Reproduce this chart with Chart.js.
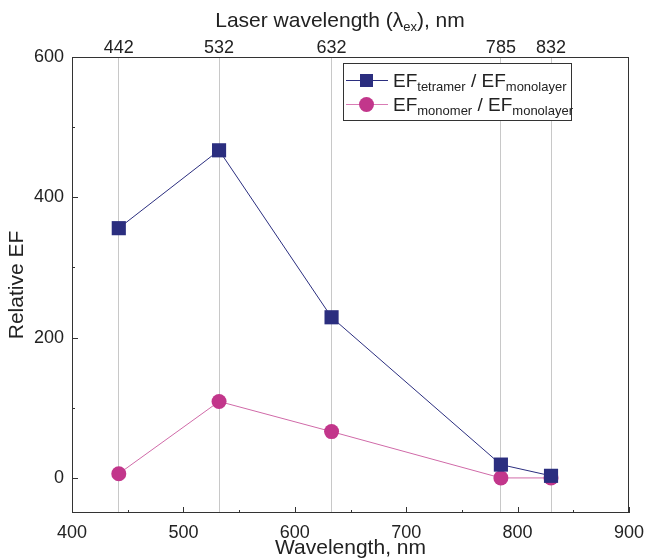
<!DOCTYPE html>
<html>
<head>
<meta charset="utf-8">
<script src="https://cdn.jsdelivr.net/npm/chart.js@4"></script>
<style>
  body { margin: 0; background: #fff; font-family: "Liberation Sans", Arial, sans-serif; }
  #wrap { position: relative; width: 645px; height: 558px; }
  #toptitle { position: absolute; left: 0; width: 680px; top: 8px; line-height: 24px; text-align: center; font-size: 21px; color: #222; }
  #legend { position: absolute; left: 343px; top: 63px; width: 227px; height: 56px; border: 1px solid #333; background: #fff; color: #222; }
  .row { position: absolute; left: 0; height: 24px; font-size: 19px; line-height: 24px; white-space: nowrap; }
  .row .ln { position: absolute; left: 2px; width: 42px; top: 11px; height: 1px; }
  .row .mk { position: absolute; }
  .row .tx { position: absolute; left: 49px; top: 0; }
  sub { font-size: 13px; vertical-align: -4px; line-height: 0; }
</style>
</head>
<body>
<div id="wrap">
  <canvas id="grafico" width="645" height="558"></canvas>
  <div id="toptitle">Laser wavelength (λ<sub>ex</sub>), nm</div>
  <div id="legend">
    <div class="row" style="top:5px">
      <div class="ln" style="background:#2b2e7f"></div>
      <div class="mk" style="left:16px;top:5px;width:13px;height:13px;background:#2b2e7f"></div>
      <div class="tx">EF<sub>tetramer</sub> / EF<sub>monolayer</sub></div>
    </div>
    <div class="row" style="top:29px">
      <div class="ln" style="background:#d97bb4"></div>
      <div class="mk" style="left:15px;top:4px;width:15px;height:15px;border-radius:50%;background:#c2368b"></div>
      <div class="tx">EF<sub>monomer</sub> / EF<sub>monolayer</sub></div>
    </div>
  </div>
</div>
<script>
// dados
const comprimentos = [442, 532, 633, 785, 830];
const tetramero = [356, 467, 229, 19, 3];
const monomero = [6, 109, 66, 0, 0];
const ticksLaser = [442, 532, 633, 785, 830];
const rotulosLaser = ["442", "532", "632", "785", "832"];
const ticksY = [0, 200, 400, 600];

const corTetra = "#2b2e7f";
const corMono = "#c2368b";

// moldura e ticks internos
const moldura = {
  id: "moldura",
  afterDraw(chart) {
    const { ctx, chartArea: a, scales } = chart;
    ctx.save();
    ctx.strokeStyle = "#333";
    ctx.lineWidth = 1;
    ctx.strokeRect(a.left + 0.5, a.top + 0.5, a.right - a.left - 1, a.bottom - a.top - 1);
    ctx.beginPath();
    for (let v = 400; v <= 900; v += 50) {
      const px = Math.round(scales.x.getPixelForValue(v)) + 0.5;
      const len = v % 100 === 0 ? 6 : 3;
      ctx.moveTo(px, a.bottom);
      ctx.lineTo(px, a.bottom - len);
    }
    for (let v = 0; v <= 600; v += 100) {
      const py = Math.round(scales.y.getPixelForValue(v)) + 0.5;
      const len = v % 200 === 0 ? 6 : 3;
      ctx.moveTo(a.left, py);
      ctx.lineTo(a.left + len, py);
    }
    ctx.stroke();
    ctx.restore();
  }
};

// altura fixa, sem padding lateral automático
const fixarAltura = h => s => {
  s.height = h;
  s.paddingLeft = 0;
  s.paddingRight = 0;
};

const ctx = document.getElementById("grafico").getContext("2d");
new Chart(ctx, {
  type: "line",
  data: {
    datasets: [
      {
        label: "EF tetramer / EF monolayer",
        data: comprimentos.map((x, i) => ({ x, y: tetramero[i] })),
        borderColor: corTetra,
        backgroundColor: corTetra,
        borderWidth: 1,
        pointStyle: "rect",
        pointRadius: 10,
        pointHoverRadius: 10,
        pointBorderWidth: 0
      },
      {
        label: "EF monomer / EF monolayer",
        data: comprimentos.map((x, i) => ({ x, y: monomero[i] })),
        borderColor: "#d06aa8",
        backgroundColor: corMono,
        borderWidth: 1,
        pointStyle: "circle",
        pointRadius: 7.5,
        pointHoverRadius: 7.5,
        pointBorderWidth: 0
      }
    ]
  },
  options: {
    responsive: false,
    animation: false,
    layout: { padding: { left: 0, right: 16, top: 0, bottom: 0 } },
    plugins: { legend: { display: false }, tooltip: { enabled: false } },
    scales: {
      x: {
        type: "linear",
        position: "bottom",
        min: 400,
        max: 900,
        ticks: { stepSize: 100, color: "#222", font: { size: 18, family: "Liberation Sans" }, padding: 9 },
        grid: { display: false, drawTicks: false },
        border: { display: false },
        title: { display: true, text: "Wavelength, nm", color: "#222", font: { size: 21, family: "Liberation Sans" }, padding: { top: 0, bottom: -3 } },
        afterFit: fixarAltura(45)
      },
      x2: {
        type: "linear",
        position: "top",
        min: 400,
        max: 900,
        afterBuildTicks: s => { s.ticks = ticksLaser.map(v => ({ value: v })); },
        ticks: {
          color: "#222",
          font: { size: 18, family: "Liberation Sans" },
          padding: -2,
          autoSkip: false,
          maxRotation: 0,
          callback: (v, i) => rotulosLaser[i]
        },
        grid: { display: true, color: "#c8c8c8", lineWidth: 1, drawTicks: false },
        border: { display: false },
        afterFit: fixarAltura(57)
      },
      y: {
        type: "linear",
        min: -50,
        max: 600,
        afterBuildTicks: s => { s.ticks = ticksY.map(v => ({ value: v })); },
        ticks: { color: "#222", font: { size: 18, family: "Liberation Sans" }, padding: 8 },
        grid: { display: false, drawTicks: false },
        border: { display: false },
        title: { display: true, text: "Relative EF", color: "#222", font: { size: 21, family: "Liberation Sans" }, padding: { top: 5, bottom: 0 } },
        afterFit: s => { s.width = 72; s.paddingTop = 0; s.paddingBottom = 0; }
      }
    }
  },
  plugins: [moldura]
});
</script>
</body>
</html>
